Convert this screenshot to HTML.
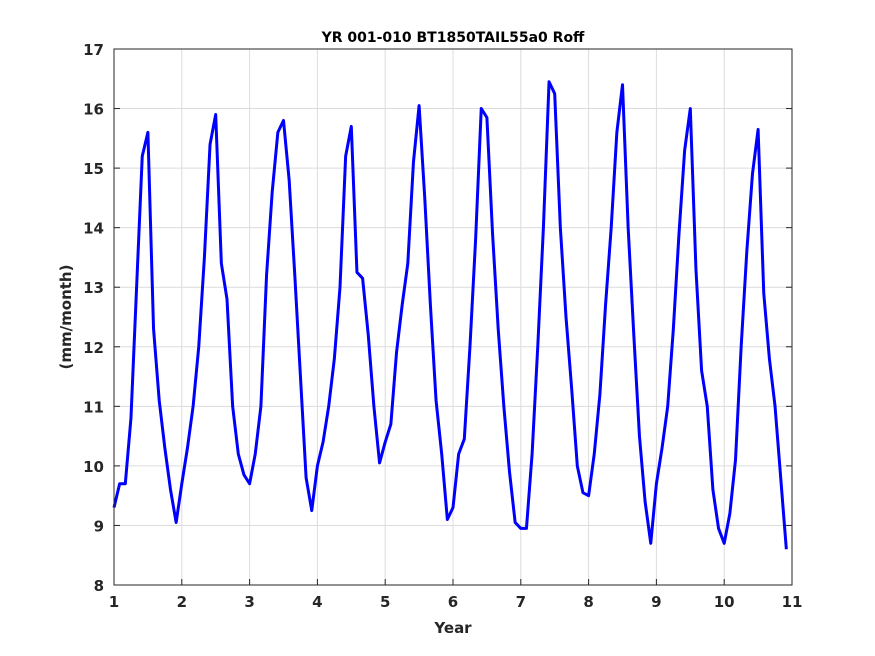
<!DOCTYPE html>
<html><head><meta charset="utf-8"><style>
body{margin:0;background:#fff;}
svg{display:block;font-family:"DejaVu Sans","Liberation Sans",sans-serif;}
</style></head><body>
<svg id="chart" width="875" height="656" xmlns="http://www.w3.org/2000/svg">
<rect width="875" height="656" fill="#fff"/>
<g id="grid"></g>
<g id="ticks"></g>
<path id="line" fill="none" stroke="#0000ff" stroke-width="3" stroke-linejoin="round"/>
<rect x="114" y="49" width="678" height="536" fill="none" stroke="#262626" stroke-width="1"/>
<text x="453" y="42" text-anchor="middle" font-size="14" font-weight="bold" fill="#000">YR 001-010 BT1850TAIL55a0 Roff</text>
<text x="453" y="633" text-anchor="middle" font-size="15" font-weight="bold" fill="#262626">Year</text>
<text transform="translate(71,317) rotate(-90)" text-anchor="middle" font-size="15" font-weight="bold" fill="#262626">(mm/month)</text>
</svg>
<script>
const xTicks=[1,2,3,4,5,6,7,8,9,10,11];
const yTicks=[8,9,10,11,12,13,14,15,16,17];
const startYear=1;
const monthlyValues=[
9.3,9.7,9.7,10.8,13.0,15.2,15.6,12.3,11.1,10.3,9.6,9.05,
9.7,10.3,11.0,12.0,13.5,15.4,15.9,13.4,12.8,11.0,10.2,9.85,
9.7,10.2,11.0,13.2,14.6,15.6,15.8,14.8,13.2,11.5,9.8,9.25,
10.0,10.4,11.0,11.8,13.0,15.2,15.7,13.25,13.15,12.2,11.0,10.05,
10.4,10.7,11.9,12.7,13.4,15.1,16.05,14.5,12.7,11.1,10.2,9.1,
9.3,10.2,10.45,12.0,13.8,16.0,15.85,13.9,12.3,11.0,9.9,9.05,
8.95,8.95,10.2,12.0,14.0,16.45,16.25,14.0,12.5,11.3,10.0,9.55,
9.5,10.2,11.2,12.7,14.0,15.6,16.4,14.0,12.2,10.5,9.4,8.7,
9.7,10.3,11.0,12.3,13.9,15.3,16.0,13.3,11.6,11.0,9.6,8.95,
8.7,9.2,10.1,12.0,13.6,14.9,15.65,12.9,11.8,11.0,9.8,8.6
];
const L=114,R=792,T=49,B=585;
const sx=v=>L+(v-1)/10*(R-L);
const sy=v=>B-(v-8)/9*(B-T);
const NS="http://www.w3.org/2000/svg";
const grid=document.getElementById('grid'),ticks=document.getElementById('ticks');
function mk(tag,attrs,parent){const e=document.createElementNS(NS,tag);for(const k in attrs)e.setAttribute(k,attrs[k]);parent.appendChild(e);return e;}
xTicks.forEach(t=>{
 const x=sx(t);
 const g=mk('line',{x1:x,x2:x,y1:T,y2:B,stroke:'#dcdcdc','stroke-width':1},grid);
 
 
 const tk=mk('line',{x1:x,x2:x,y1:B,y2:B-6,stroke:'#262626'},ticks);
 
 
 const tx=mk('text',{x:x,y:B+22,'text-anchor':'middle','font-size':15,'font-weight':'bold',fill:'#262626'},ticks);
 tx.textContent=t;
 
 
});
yTicks.forEach(t=>{
 const y=sy(t);
 const g=mk('line',{x1:L,x2:R,y1:y,y2:y,stroke:'#dcdcdc','stroke-width':1},grid);
 
 
 const tk=mk('line',{x1:L,x2:L+6,y1:y,y2:y,stroke:'#262626'},ticks);
 
 
 const tk2=mk('line',{x1:R,x2:R-6,y1:y,y2:y,stroke:'#262626'},ticks);
 
 
 const tx=mk('text',{x:L-10,y:y+6,'text-anchor':'end','font-size':15,'font-weight':'bold',fill:'#262626'},ticks);
 tx.textContent=t;
 
 
});
let d='';
monthlyValues.forEach((v,i)=>{const x=sx(startYear+i/12),y=sy(v);d+=(i?'L':'M')+x.toFixed(2)+','+y.toFixed(2);});
document.getElementById('line').setAttribute('d',d);
</script>
</body></html>
